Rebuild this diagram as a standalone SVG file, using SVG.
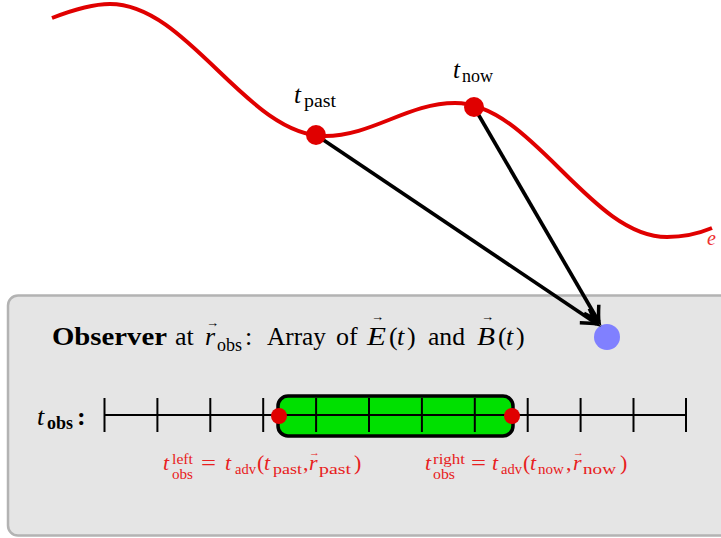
<svg xmlns="http://www.w3.org/2000/svg" width="721" height="538" viewBox="0 0 721 538">
<style>
text{font-family:"Liberation Serif","DejaVu Serif",serif;fill:#000}
.it{font-style:italic}
.bf{font-weight:bold}
.red{fill:#e82020}
.m{font-size:26px}
.s{font-size:18px}
.f{font-size:22px}
.fs{font-size:15px}
.v{font-size:13px;font-style:normal;font-weight:normal}
.tick{stroke:#000;stroke-width:2}
</style>
<defs>
<marker id="arr" markerUnits="userSpaceOnUse" markerWidth="30" markerHeight="30" refX="0" refY="0" viewBox="-20 -15 30 30" orient="auto" overflow="visible">
<path d="M-15,-8.5 Q-5,-2 0,0 Q-5,2 -15,8.5" fill="none" stroke="#000" stroke-width="3.5" stroke-linejoin="miter"/>
</marker>
</defs>

<g id="worldline">
<path d="M52,18 C70,11 92,4 110,4 C188,4 247,136 325,136 C372,136 408,103 455,103 C532,103 590,237 667,237 C685,237 700,233 712,228" fill="none" stroke="#e00000" stroke-width="4"/>
<text class="it red" x="707" y="245" style="font-size:20px;fill:#ee3030">e</text>
</g>

<g id="observer-box">
<rect x="8" y="295.5" width="730" height="240" rx="10" fill="#e5e5e5" stroke="#b3b3b3" stroke-width="2.5"/>
<text class="m" y="345"><tspan class="bf" x="52" textLength="115" lengthAdjust="spacingAndGlyphs">Observer</tspan><tspan x="175">at</tspan><tspan class="it" x="205">r</tspan><tspan class="v" x="206" y="327">→</tspan><tspan class="s" x="217" y="351">obs</tspan><tspan x="245" y="345">:</tspan><tspan x="267" textLength="59" lengthAdjust="spacingAndGlyphs">Array</tspan><tspan x="336">of</tspan><tspan class="it" x="367" textLength="19" lengthAdjust="spacingAndGlyphs">E</tspan><tspan class="v" x="371" y="321">→</tspan><tspan x="389" y="345">(</tspan><tspan class="it" x="397">t</tspan><tspan x="407">)</tspan><tspan x="428" textLength="37" lengthAdjust="spacingAndGlyphs">and</tspan><tspan class="it" x="477" textLength="18" lengthAdjust="spacingAndGlyphs">B</tspan><tspan class="v" x="481" y="321">→</tspan><tspan x="498" y="345">(</tspan><tspan class="it" x="506">t</tspan><tspan x="516">)</tspan></text>
</g>

<g id="observer-point">
<circle cx="607" cy="337" r="13" fill="#8080ff"/>
</g>

<g id="timeline">
<rect x="278" y="396" width="235" height="40" rx="10" fill="#00e000" stroke="#000" stroke-width="3.5"/>
<line x1="104" y1="415" x2="686" y2="415" stroke="#000" stroke-width="2"/>
<g class="tick">
<line x1="104.5" y1="398" x2="104.5" y2="432"/>
<line x1="157.4" y1="398" x2="157.4" y2="432"/>
<line x1="210.3" y1="398" x2="210.3" y2="432"/>
<line x1="263.2" y1="398" x2="263.2" y2="432"/>
<line x1="316.1" y1="398" x2="316.1" y2="432"/>
<line x1="369" y1="398" x2="369" y2="432"/>
<line x1="421.9" y1="398" x2="421.9" y2="432"/>
<line x1="474.8" y1="398" x2="474.8" y2="432"/>
<line x1="527.7" y1="398" x2="527.7" y2="432"/>
<line x1="580.6" y1="398" x2="580.6" y2="432"/>
<line x1="633.5" y1="398" x2="633.5" y2="432"/>
<line x1="686" y1="398" x2="686" y2="432"/>
</g>
<circle cx="279" cy="416" r="8" fill="#e00000"/>
<circle cx="512" cy="416" r="8" fill="#e00000"/>
<text class="m" y="425"><tspan class="it" x="37">t</tspan><tspan class="bf s" x="47" y="429">obs</tspan><tspan class="bf" x="77" y="425">:</tspan></text>
</g>

<g id="label-left">
<text class="f red" y="470"><tspan class="it" x="163">t</tspan><tspan class="fs" x="172" y="464" textLength="21" lengthAdjust="spacingAndGlyphs">left</tspan><tspan class="fs" x="172" y="479" textLength="21" lengthAdjust="spacingAndGlyphs">obs</tspan><tspan x="201" y="470" textLength="15" lengthAdjust="spacingAndGlyphs">=</tspan><tspan class="it" x="225">t</tspan><tspan class="fs" x="235" y="474" textLength="21" lengthAdjust="spacingAndGlyphs">adv</tspan><tspan x="257" y="470">(</tspan><tspan class="it" x="264">t</tspan><tspan class="fs" x="273" y="474" textLength="29" lengthAdjust="spacingAndGlyphs">past</tspan><tspan x="303" y="470">,</tspan><tspan class="it" x="309">r</tspan><tspan class="v" x="309" y="456" style="font-size:11px">→</tspan><tspan class="fs" x="319" y="474" textLength="32" lengthAdjust="spacingAndGlyphs">past</tspan><tspan x="354" y="470">)</tspan></text>
</g>

<g id="label-right">
<text class="f red" y="470"><tspan class="it" x="425">t</tspan><tspan class="fs" x="433" y="464" textLength="32" lengthAdjust="spacingAndGlyphs">right</tspan><tspan class="fs" x="433" y="479" textLength="22" lengthAdjust="spacingAndGlyphs">obs</tspan><tspan x="471" y="470" textLength="15" lengthAdjust="spacingAndGlyphs">=</tspan><tspan class="it" x="492">t</tspan><tspan class="fs" x="501" y="474" textLength="21" lengthAdjust="spacingAndGlyphs">adv</tspan><tspan x="523" y="470">(</tspan><tspan class="it" x="530">t</tspan><tspan class="fs" x="538" y="474" textLength="26" lengthAdjust="spacingAndGlyphs">now</tspan><tspan x="566" y="470">,</tspan><tspan class="it" x="573">r</tspan><tspan class="v" x="573" y="456" style="font-size:11px">→</tspan><tspan class="fs" x="583" y="474" textLength="33" lengthAdjust="spacingAndGlyphs">now</tspan><tspan x="620" y="470">)</tspan></text>
</g>

<g id="connectors">
<line x1="316" y1="135" x2="597" y2="324" stroke="#000" stroke-width="3.7" marker-end="url(#arr)"/>
<line x1="474" y1="107" x2="599" y2="322" stroke="#000" stroke-width="3.7" marker-end="url(#arr)"/>
</g>

<g id="t-past">
<circle cx="316" cy="135" r="10" fill="#e00000"/>
<text class="it" x="294" y="103" style="font-size:25px">t</text>
<text x="304" y="107" style="font-size:18px" textLength="32" lengthAdjust="spacingAndGlyphs">past</text>
</g>
<g id="t-now">
<circle cx="474" cy="107" r="10" fill="#e00000"/>
<text class="it" x="453" y="78" style="font-size:25px">t</text>
<text x="462" y="82" style="font-size:18px" textLength="31" lengthAdjust="spacingAndGlyphs">now</text>
</g>
</svg>
